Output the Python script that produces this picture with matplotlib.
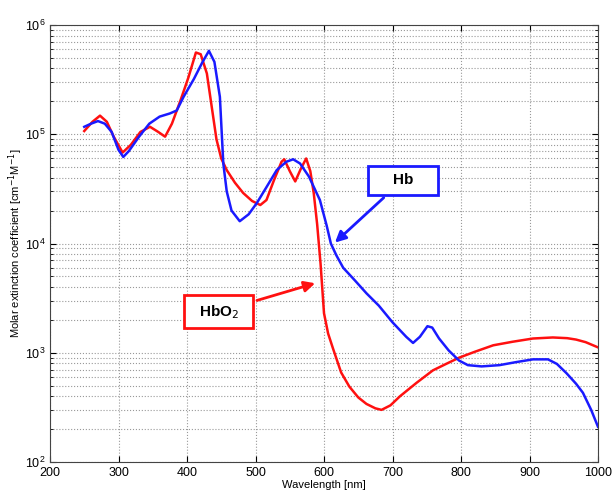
import matplotlib.pyplot as plt
from matplotlib.ticker import LogLocator, NullLocator

# Hb (deoxy) extinction spectrum
wl_hb = [250, 260, 270, 280, 290, 300, 307, 315, 330, 345, 360, 375, 385, 395,
         410, 422, 432, 440, 448, 453, 458, 465, 477, 490, 502, 515, 531, 545,
         555, 565, 578, 594, 604, 610, 618, 628, 645, 662, 680, 700, 720, 730,
         740, 751, 758, 768, 782, 797, 810, 830, 856, 880, 905, 927, 940, 954,
         968, 978, 990, 1000]
hb = [1.17e5, 1.25e5, 1.32e5, 1.25e5, 1.05e5, 7.2e4, 6.2e4, 7.0e4, 9.5e4, 1.25e5,
      1.45e5, 1.55e5, 1.65e5, 2.2e5, 3.2e5, 4.5e5, 5.8e5, 4.6e5, 2.2e5, 5.4e4,
      3.0e4, 2.0e4, 1.6e4, 1.85e4, 2.35e4, 3.2e4, 4.7e4, 5.6e4, 5.9e4, 5.4e4,
      4.1e4, 2.5e4, 1.45e4, 1.0e4, 7.8e3, 6.0e3, 4.6e3, 3.5e3, 2.7e3, 1.9e3,
      1.4e3, 1.23e3, 1.4e3, 1.75e3, 1.7e3, 1.35e3, 1.05e3, 8.5e2, 7.7e2, 7.5e2,
      7.7e2, 8.2e2, 8.7e2, 8.7e2, 7.9e2, 6.5e2, 5.2e2, 4.3e2, 3.0e2, 2.1e2]

# HbO2 (oxy) extinction spectrum
wl_hbo2 = [250, 262, 273, 283, 293, 306, 318, 332, 346, 358, 368, 378, 390, 402,
           413, 420, 429, 436, 443, 450, 458, 470, 482, 495, 507, 516, 527, 538,
           542, 550, 558, 566, 574, 580, 585, 590, 595, 600, 606, 613, 625, 637,
           650, 662, 675, 684, 697, 711, 735, 759, 780, 797, 820, 847, 875, 905,
           934, 955, 968, 982, 1000]
hbo2 = [1.07e5, 1.3e5, 1.48e5, 1.3e5, 9.5e4, 6.8e4, 8.0e4, 1.05e5, 1.17e5, 1.05e5,
        9.5e4, 1.25e5, 2.0e5, 3.3e5, 5.6e5, 5.4e5, 3.6e5, 1.8e5, 9.0e4, 6.0e4,
        4.7e4, 3.6e4, 2.9e4, 2.45e4, 2.25e4, 2.5e4, 3.8e4, 5.6e4, 5.9e4, 4.6e4,
        3.7e4, 4.8e4, 6.0e4, 4.6e4, 2.9e4, 1.5e4, 6.5e3, 2.3e3, 1.5e3, 1.1e3,
        6.6e2, 4.9e2, 3.9e2, 3.4e2, 3.1e2, 3.0e2, 3.3e2, 4.0e2, 5.3e2, 6.9e2,
        8.0e2, 9.0e2, 1.02e3, 1.17e3, 1.26e3, 1.35e3, 1.38e3, 1.36e3, 1.32e3,
        1.25e3, 1.12e3]

plt.rcParams['font.family'] = ['Liberation Sans', 'DejaVu Sans']

fig = plt.figure(figsize=(6.13, 4.93), dpi=100)
ax = fig.add_axes([50 / 613, 31 / 493, 548 / 613, 437 / 493])

ax.plot(wl_hbo2, hbo2, color='#ff1010', lw=1.8)
ax.plot(wl_hb, hb, color='#1a1aff', lw=1.8)

ax.set_yscale('log')
ax.set_xlim(200, 1000)
ax.set_ylim(1e2, 1e6)
ax.set_xticks(range(200, 1001, 100))
ax.xaxis.set_minor_locator(NullLocator())
ax.yaxis.set_major_locator(LogLocator(base=10, numticks=10))
ax.yaxis.set_minor_locator(LogLocator(base=10, subs=range(2, 10), numticks=10))

ax.grid(True, which='major', linestyle=':', color='#999999', lw=0.8)
ax.grid(True, which='minor', axis='y', linestyle=':', color='#999999', lw=0.8)
ax.tick_params(which='both', direction='in', top=True, right=True, labelsize=9)
ax.tick_params(which='major', length=4)
ax.tick_params(which='minor', length=2)
for s in ax.spines.values():
    s.set_color('#444444')

ax.set_xlabel('Wavelength [nm]', fontsize=8, labelpad=1)
ax.set_ylabel('Molar extinction coefficient [cm$^{-1}$M$^{-1}$]', fontsize=8, labelpad=0)

# labelled arrows
ax.annotate('    Hb    ', xy=(613, 9.8e3), xytext=(715, 3.8e4),
            ha='center', va='center', fontsize=11, fontweight='bold',
            bbox=dict(boxstyle='square,pad=0.5', fc='white', ec='#1a1aff', lw=2),
            arrowprops=dict(arrowstyle='-|>', color='#1a1aff', lw=2, mutation_scale=16))
ax.annotate('  HbO$_2$  ', xy=(591, 4.4e3), xytext=(446, 2.37e3),
            ha='center', va='center', fontsize=11, fontweight='bold',
            bbox=dict(boxstyle='square,pad=0.5', fc='white', ec='#ff1010', lw=2),
            arrowprops=dict(arrowstyle='-|>', color='#ff1010', lw=2, mutation_scale=16))

fig.savefig('out.png', dpi=100)
